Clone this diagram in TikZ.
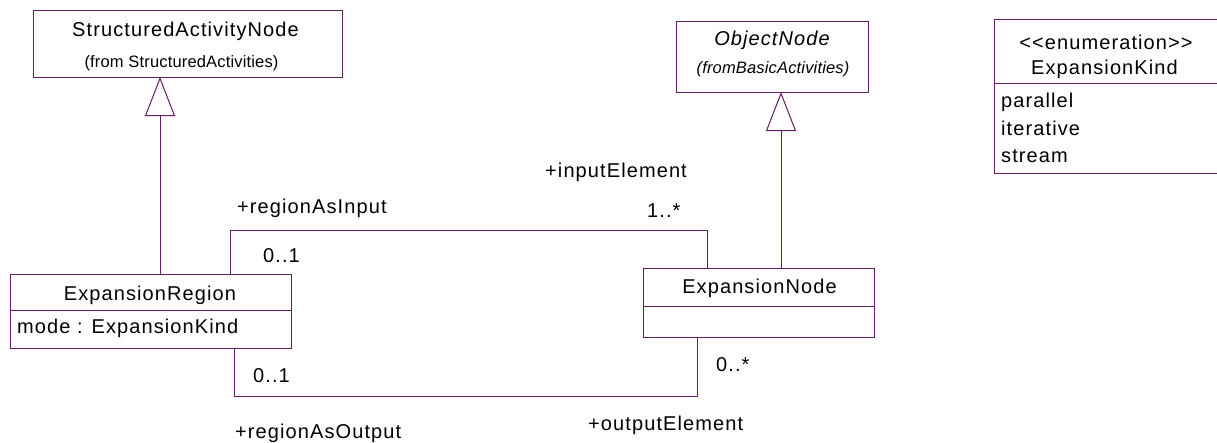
\documentclass[tikz,border=0pt]{standalone}
\usepackage{fontspec}
\setmainfont{Liberation Sans}
\newfontfamily\umlfont{Liberation Sans}[LetterSpace=5.5]
\newfontfamily\umlsmall{Liberation Sans}[LetterSpace=1]
\usetikzlibrary{arrows.meta}
\definecolor{umlline}{RGB}{100,30,100}
\begin{document}
\begin{tikzpicture}[x=1pt,y=-1pt,
  box/.style={draw=umlline, line width=1pt, fill=white, inner sep=0pt, outer sep=0pt, rectangle},
  txt/.style={inner sep=0pt, font=\umlfont\fontsize{20}{23}\selectfont},
  txtsmall/.style={inner sep=0pt, font=\umlsmall\fontsize{16.5}{19}\selectfont},
  assoc/.style={draw=umlline, line width=1pt},
  gen/.style={draw=umlline, line width=1pt, -{Triangle[open, length=39pt, width=30pt, fill=white]}}]
\clip (0,0) rectangle (1217,442);
\fill[white] (0,0) rectangle (1217,442);
% StructuredActivityNode
\node[box, minimum width=309pt, minimum height=67pt] (san) at (187.5,43.5) {};
\node[txt, anchor=base] (santitle) at (185.5,36) {StructuredActivityNode};
\node[txtsmall, anchor=base] (sanfrom) at (181.5,67) {(from StructuredActivities)};
% ObjectNode
\node[box, minimum width=192pt, minimum height=71pt] (on) at (772,56.5) {};
\node[txt, anchor=base, font=\umlfont\fontsize{20}{23}\selectfont\itshape] (ontitle) at (772,45) {ObjectNode};
\node[txtsmall, anchor=base, font=\umlsmall\fontsize{16.5}{19}\selectfont\itshape] (onfrom) at (773,73) {(fromBasicActivities)};
% ExpansionKind enumeration
\node[box, minimum width=241pt, minimum height=64pt] (ekh) at (1114.5,51) {};
\node[box, minimum width=241pt, minimum height=90pt] (ekb) at (1114.5,128) {};
\node[txt, anchor=base] (ekst) at (1106,49) {<<enumeration>>};
\node[txt, anchor=base] (ekname) at (1104.5,74) {ExpansionKind};
\node[txt, anchor=base west] (ek1) at (1001,107) {parallel};
\node[txt, anchor=base west] (ek2) at (1001,135) {iterative};
\node[txt, anchor=base west] (ek3) at (1001,162) {stream};
% ExpansionRegion
\node[box, minimum width=281pt, minimum height=36pt] (er) at (150.5,292) {};
\node[box, minimum width=281pt, minimum height=38pt] (era) at (150.5,329) {};
\node[txt, anchor=base] (ername) at (150,300) {ExpansionRegion};
\node[txt, anchor=base west] (erattr) at (17,333) {mode : ExpansionKind};
% ExpansionNode
\node[box, minimum width=231pt, minimum height=38pt] (en) at (758.5,287) {};
\node[box, minimum width=231pt, minimum height=31pt] (ena) at (758.5,321.5) {};
\node[txt, anchor=base] (enname) at (759.5,293) {ExpansionNode};
% bend points
\coordinate (g1) at (160,0);
\coordinate (g2) at (781,0);
\coordinate (c1) at (230,230);
\coordinate (c2) at (707,230);
\coordinate (c3) at (234,396);
\coordinate (c4) at (697,396);
% generalizations
\draw[gen] (er.north -| g1) -- (san.south -| g1);
\draw[gen] (en.north -| g2) -- (on.south -| g2);
% associations
\draw[assoc] (er.north -| c1) -- (c1) -- (c2) -- (en.north -| c2);
\draw[assoc] (era.south -| c3) -- (c3) -- (c4) -- (ena.south -| c4);
% association labels
\node[txt, anchor=base west] (l1) at (237,213) {+regionAsInput};
\node[txt, anchor=base west] (l2) at (263,262) {0..1};
\node[txt, anchor=base west] (l3) at (545,177) {+inputElement};
\node[txt, anchor=base west] (l4) at (647,217) {1..*};
\node[txt, anchor=base west] (l5) at (253,382) {0..1};
\node[txt, anchor=base west] (l6) at (235,438) {+regionAsOutput};
\node[txt, anchor=base west] (l7) at (716,371) {0..*};
\node[txt, anchor=base west] (l8) at (588,430) {+outputElement};
\end{tikzpicture}
\end{document}
